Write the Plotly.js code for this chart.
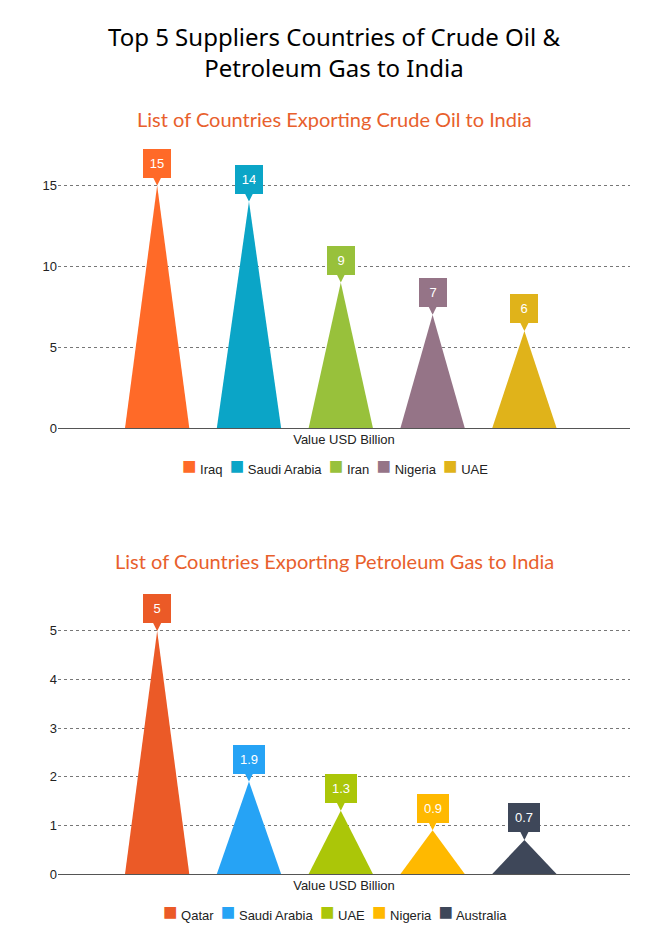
<!DOCTYPE html>
<html>
<head>
<meta charset="utf-8">
<script src="https://cdn.plot.ly/plotly-3.0.1.min.js"></script>
<style>
  html, body { margin: 0; padding: 0; background: #fff; }
  #chart { width: 668px; height: 934px; }
</style>
</head>
<body>
<div id="chart"></div>
<script>
// crude oil (top chart)
const crudeCountries = ['Iraq', 'Saudi Arabia', 'Iran', 'Nigeria', 'UAE'];
const crudeValues = [15, 14, 9, 7, 6];
const crudeColors = ['#FF6A28', '#0BA5C7', '#98C13B', '#957487', '#E0B31A'];

// petroleum gas (bottom chart)
const gasCountries = ['Qatar', 'Saudi Arabia', 'UAE', 'Nigeria', 'Australia'];
const gasValues = [5, 1.9, 1.3, 0.9, 0.7];
const gasColors = ['#EB5A27', '#26A3F5', '#ABC608', '#FFB900', '#3E4759'];

const halfWidth = 0.35;
const plotCenter = (334.5 - 58) / 572;   // page centre in paper units
const data = [];
const annotations = [];

function addPyramids(countries, values, colors, xa, ya, legendY) {
    countries.forEach(function (name, i) {
        // triangle drawn through the axis scales
        data.push({
            type: 'scatter',
            mode: 'lines',
            x: [i - halfWidth, i, i + halfWidth],
            y: [0, values[i], 0],
            fill: 'toself',
            fillcolor: colors[i],
            line: { width: 0, color: colors[i] },
            xaxis: xa, yaxis: ya,
            name: name,
            showlegend: false,
            hoverinfo: 'skip'
        });
        // value callout
        const label = String(values[i]);
        annotations.push({
            xref: xa, yref: ya,
            x: i, y: values[i],
            text: label,
            showarrow: true,
            arrowhead: 2,
            arrowsize: 1,
            arrowwidth: 1.7,
            arrowcolor: colors[i],
            ax: 0, ay: -22,
            standoff: 0,
            bgcolor: colors[i],
            bordercolor: colors[i],
            borderwidth: 1,
            borderpad: 6,
            width: Math.max(14, label.length * 6),
            height: 15,
            font: { color: '#fff', size: 13, family: '"Liberation Sans", Arial, sans-serif' }
        });
    });
    // legend row
    const legendText = countries.map(function (name, i) {
        return '<span style="color:' + colors[i] + ';font-size:24px">■</span> ' + name;
    }).join('  ');
    annotations.push({
        xref: 'paper', yref: 'paper',
        x: plotCenter, y: legendY,
        xanchor: 'center', yanchor: 'middle',
        showarrow: false,
        text: legendText,
        font: { size: 13, color: '#222', family: '"Liberation Sans", Arial, sans-serif' }
    });
}

addPyramids(crudeCountries, crudeValues, crudeColors, 'x', 'y', 1 - 465 / 934);
addPyramids(gasCountries, gasValues, gasColors, 'x2', 'y2', 1 - 911 / 934);

const subtitleFont = { family: 'Lato, "Noto Sans", sans-serif', size: 20, color: '#E8602C' };
annotations.push({
    xref: 'paper', yref: 'paper', x: plotCenter, y: 1 - 119 / 934,
    xanchor: 'center', yanchor: 'middle', showarrow: false,
    text: 'List of Countries Exporting Crude Oil to India', font: subtitleFont
});
annotations.push({
    xref: 'paper', yref: 'paper', x: plotCenter, y: 1 - 561 / 934,
    xanchor: 'center', yanchor: 'middle', showarrow: false,
    text: 'List of Countries Exporting Petroleum Gas to India', font: subtitleFont
});

const xBase = {
    range: [-1.08, 5.15],
    showticklabels: false,
    showgrid: false,
    zeroline: false,
    fixedrange: true,
    title: { text: 'Value USD Billion', standoff: 6, font: { size: 13, color: '#222' } }
};
const yBase = {
    showgrid: true,
    gridcolor: '#777',
    griddash: 'dot',
    gridwidth: 1,
    zeroline: true,
    zerolinecolor: '#555',
    zerolinewidth: 1,
    tickfont: { size: 13, color: '#222' },
    ticks: '',
    fixedrange: true
};

const layout = {
    width: 668,
    height: 934,
    margin: { l: 58, r: 38, t: 0, b: 0, autoexpand: false },
    paper_bgcolor: '#fff',
    plot_bgcolor: '#fff',
    font: { family: '"Liberation Sans", Arial, sans-serif', color: '#222' },
    title: {
        text: 'Top 5 Suppliers Countries of Crude Oil &amp;<br>Petroleum Gas to India',
        font: { family: '"Noto Sans", Lato, sans-serif', size: 24, color: '#000' },
        x: 0.5, xref: 'container',
        y: 1 - 46 / 934, yref: 'container', yanchor: 'top'
    },
    xaxis: Object.assign({}, xBase, { anchor: 'y', domain: [0, 1] }),
    yaxis: Object.assign({}, yBase, { anchor: 'x', domain: [1 - 428 / 934, 1 - 145 / 934], range: [0, 17.5], tickvals: [0, 5, 10, 15] }),
    xaxis2: Object.assign({}, xBase, { anchor: 'y2', domain: [0, 1] }),
    yaxis2: Object.assign({}, yBase, { anchor: 'x2', domain: [1 - 874 / 934, 1 - 592 / 934], range: [0, 5.8], tickvals: [0, 1, 2, 3, 4, 5] }),
    annotations: annotations,
    showlegend: false
};

Plotly.newPlot('chart', data, layout, { displayModeBar: false, staticPlot: true });
</script>
</body>
</html>
